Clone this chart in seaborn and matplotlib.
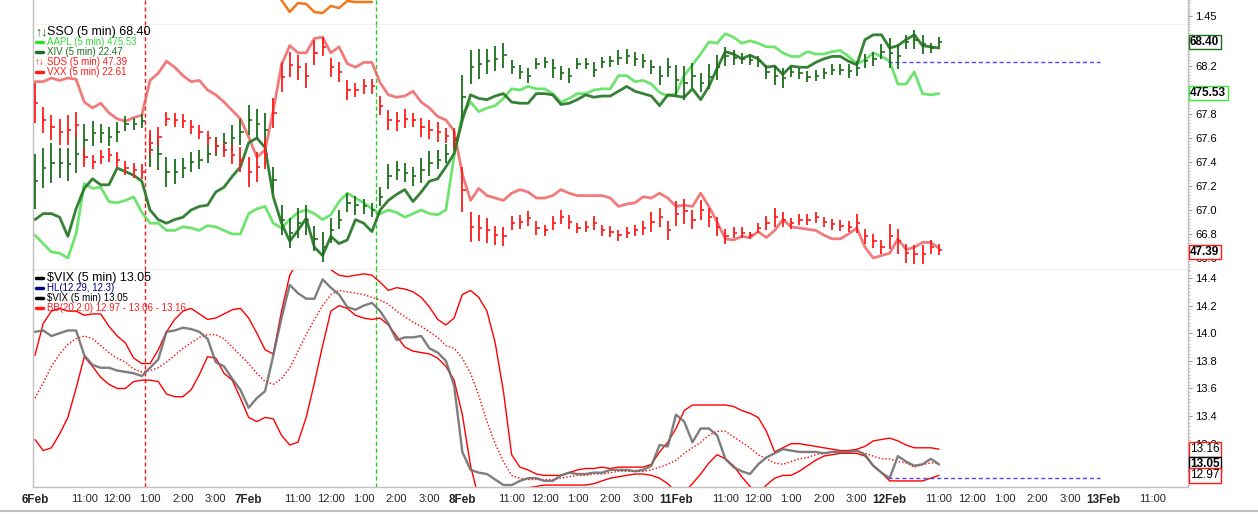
import numpy as np
import pandas as pd
import matplotlib
matplotlib.use('Agg')
import matplotlib.pyplot as plt
from matplotlib.lines import Line2D
from matplotlib.ticker import MultipleLocator, FixedLocator, FormatStrFormatter
import seaborn as sns

# one value per 15 min step, 26 steps per session, 6Feb 9:30 .. 12Feb ~11:00
sso_close = [67.24, 67.35, 67.39, 67.39, 67.38, 67.47, 67.58, 67.64, 67.64, 67.61,
             67.65, 67.72, 67.72, 67.74, 67.50, 67.47, 67.32, 67.32, 67.35, 67.40,
             67.42, 67.47, 67.53, 67.56, 67.60, 67.65, 67.75, 67.72, 67.67, 67.25,
             66.92, 66.81, 66.89, 66.92, 66.76, 66.69, 66.83, 66.92, 67.06, 67.04,
             67.03, 67.00, 67.11, 67.28, 67.33, 67.31, 67.28, 67.33, 67.39, 67.42,
             67.47, 67.58, 67.94, 68.19, 68.22, 68.24, 68.26, 68.29, 68.19, 68.15,
             68.12, 68.22, 68.23, 68.18, 68.14, 68.12, 68.22, 68.22, 68.17, 68.23,
             68.24, 68.27, 68.28, 68.26, 68.24, 68.19, 68.12, 68.19, 68.08, 68.06,
             68.12, 68.06, 68.11, 68.19, 68.28, 68.27, 68.26, 68.25, 68.24, 68.15,
             68.12, 68.10, 68.15, 68.14, 68.11, 68.12, 68.14, 68.17, 68.17, 68.16,
             68.18, 68.24, 68.26, 68.32, 68.31, 68.28, 68.40, 68.42, 68.38, 68.35, 68.40]
sso_range = [.46, .33, .33, .25, .28, .33, .28, .21, .16, .16,
             .16, .12, .10, .12, .28, .28, .25, .21, .16, .16,
             .16, .16, .16, .16, .21, .21, .25, .25, .28, .21,
             .25, .25, .25, .25, .21, .25, .21, .16, .16, .16,
             .12, .12, .16, .21, .16, .16, .16, .21, .21, .16,
             .16, .16, .37, .28, .25, .21, .21, .21, .12, .12,
             .12, .09, .09, .16, .12, .12, .09, .09, .12, .09,
             .09, .12, .12, .12, .12, .12, .16, .16, .25, .28,
             .21, .16, .21, .21, .16, .12, .09, .09, .09, .12,
             .16, .16, .09, .09, .09, .09, .09, .09, .09, .12,
             .12, .12, .12, .12, .25, .21, .12, .16, .16, .09, .09]
sds_close = [67.89, 67.75, 67.69, 67.65, 67.67, 67.71, 67.44, 67.40, 67.44, 67.46,
             67.42, 67.35, 67.33, 67.32, 67.56, 67.61, 67.76, 67.75, 67.74, 67.69,
             67.65, 67.60, 67.53, 67.50, 67.46, 67.42, 67.32, 67.36, 67.47, 67.81,
             68.11, 68.21, 68.19, 68.12, 68.31, 68.36, 68.19, 68.15, 68.00, 68.00,
             68.03, 68.03, 67.87, 67.75, 67.74, 67.76, 67.75, 67.69, 67.67, 67.65,
             67.62, 67.60, 67.17, 66.86, 66.85, 66.83, 66.79, 66.78, 66.89, 66.90,
             66.93, 66.85, 66.83, 66.89, 66.94, 66.90, 66.85, 66.86, 66.89, 66.83,
             66.82, 66.79, 66.81, 66.83, 66.85, 66.90, 66.94, 66.83, 66.97, 66.99,
             66.92, 67.00, 66.94, 66.86, 66.78, 66.81, 66.81, 66.79, 66.85, 66.89,
             66.94, 66.92, 66.89, 66.92, 66.92, 66.94, 66.90, 66.88, 66.87, 66.86,
             66.89, 66.78, 66.74, 66.69, 66.78, 66.74, 66.64, 66.63, 66.63, 66.69, 66.67]
sds_range = [.33, .21, .21, .21, .25, .21, .16, .12, .12, .12,
             .12, .12, .12, .12, .21, .16, .12, .12, .12, .12,
             .12, .12, .12, .12, .16, .21, .25, .25, .25, .25,
             .25, .21, .21, .21, .21, .16, .16, .16, .16, .12,
             .12, .12, .16, .16, .16, .16, .12, .16, .16, .16,
             .12, .16, .37, .25, .21, .21, .16, .16, .12, .12,
             .12, .12, .09, .12, .12, .12, .09, .09, .12, .09,
             .09, .09, .09, .09, .12, .16, .16, .16, .21, .21,
             .16, .16, .16, .16, .12, .09, .09, .06, .09, .12,
             .16, .12, .09, .09, .09, .09, .09, .09, .09, .09,
             .16, .12, .12, .12, .21, .21, .16, .16, .16, .12, .09]
aapl = [66.79, 66.72, 66.65, 66.64, 66.60, 66.80, 67.22, 67.18, 67.19, 67.07,
        67.06, 67.08, 67.11, 66.98, 66.89, 66.89, 66.83, 66.83, 66.86, 66.85,
        66.83, 66.87, 66.86, 66.83, 66.80, 66.80, 66.97, 67.01, 67.03, 66.89,
        66.85, 66.92, 66.98, 67.00, 66.97, 66.92, 66.96, 67.07, 67.14, 67.10,
        67.06, 67.01, 66.97, 67.00, 66.98, 66.94, 66.97, 67.00, 66.97, 66.96,
        67.00, 67.45, 67.80, 67.90, 67.82, 67.85, 67.87, 67.93, 68.01, 68.00,
        68.03, 68.01, 68.01, 67.97, 67.90, 67.93, 67.97, 67.97, 68.00, 68.01,
        68.01, 68.12, 68.12, 68.07, 68.08, 68.05, 67.98, 67.95, 67.97, 68.12,
        68.21, 68.30, 68.40, 68.39, 68.47, 68.44, 68.39, 68.41, 68.39, 68.36,
        68.36, 68.31, 68.28, 68.28, 68.32, 68.30, 68.30, 68.32, 68.33, 68.28,
        68.22, 68.25, 68.31, 68.28, 68.24, 68.05, 68.05, 68.15, 67.97, 67.96, 67.97]
xiv = [66.92, 66.97, 66.97, 66.94, 66.78, 67.01, 67.18, 67.26, 67.21, 67.21,
       67.35, 67.32, 67.29, 67.24, 67.00, 66.92, 66.89, 66.92, 66.94, 67.00,
       67.03, 67.04, 67.15, 67.19, 67.28, 67.36, 67.56, 67.60, 67.52, 67.11,
       66.89, 66.74, 66.83, 66.93, 66.69, 66.62, 66.78, 66.72, 66.75, 66.92,
       66.89, 66.82, 67.00, 67.08, 67.13, 67.17, 67.07, 67.15, 67.24, 67.26,
       67.36, 67.47, 67.75, 67.96, 67.93, 67.92, 67.95, 67.97, 67.90, 67.89,
       67.89, 67.97, 67.97, 67.96, 67.88, 67.89, 67.92, 67.96, 67.94, 67.95,
       67.95, 67.99, 68.03, 67.99, 67.97, 67.95, 67.87, 67.96, 67.95, 67.94,
       68.01, 67.92, 68.03, 68.18, 68.32, 68.30, 68.26, 68.29, 68.26, 68.19,
       68.20, 68.13, 68.20, 68.19, 68.19, 68.23, 68.26, 68.28, 68.28, 68.24,
       68.21, 68.42, 68.46, 68.46, 68.35, 68.37, 68.42, 68.46, 68.37, 68.36, 68.35]
vxx = [68.07, 68.07, 68.10, 68.08, 68.10, 68.09, 67.90, 67.85, 67.89, 67.81,
       67.76, 67.74, 67.77, 67.79, 68.08, 68.14, 68.24, 68.19, 68.12, 68.07,
       68.08, 68.00, 67.96, 67.90, 67.83, 67.76, 67.61, 67.44, 67.50, 67.83,
       68.21, 68.37, 68.31, 68.31, 68.43, 68.44, 68.31, 68.36, 68.22, 68.19,
       68.23, 68.23, 68.06, 67.96, 67.94, 67.95, 67.99, 67.90, 67.85, 67.78,
       67.75, 67.66, 67.30, 67.08, 67.18, 67.12, 67.10, 67.08, 67.14, 67.17,
       67.15, 67.10, 67.10, 67.12, 67.17, 67.14, 67.12, 67.12, 67.12, 67.12,
       67.10, 67.03, 67.05, 67.06, 67.11, 67.10, 67.14, 67.10, 67.03, 67.04,
       67.03, 67.14, 67.03, 66.90, 66.76, 66.75, 66.78, 66.77, 66.82, 66.77,
       66.83, 66.92, 66.86, 66.85, 66.84, 66.83, 66.79, 66.76, 66.76, 66.80,
       66.85, 66.69, 66.60, 66.62, 66.64, 66.76, 66.67, 66.69, 66.73, 66.73, 66.68]
vix = [14.01, 14.02, 13.98, 14.00, 14.02, 14.02, 13.84, 13.77, 13.75, 13.75,
       13.73, 13.72, 13.71, 13.69, 13.75, 13.81, 14.01, 14.02, 14.04, 14.03,
       14.01, 13.96, 13.79, 13.76, 13.67, 13.59, 13.46, 13.53, 13.58, 13.84,
       14.11, 14.35, 14.29, 14.25, 14.25, 14.39, 14.33, 14.28, 14.19, 14.17,
       14.20, 14.22, 14.16, 14.07, 13.95, 13.97, 13.97, 13.98, 13.89, 13.86,
       13.80, 13.62, 13.14, 13.01, 12.99, 12.98, 12.94, 12.90, 12.90, 12.93,
       12.95, 12.95, 12.93, 12.93, 12.97, 12.99, 12.98, 12.98, 12.99, 12.99,
       13.01, 13.01, 13.01, 13.00, 13.01, 13.04, 13.19, 13.18, 13.41, 13.36,
       13.21, 13.31, 13.31, 13.26, 13.09, 13.03, 13.00, 12.98, 13.05, 13.10,
       13.13, 13.16, 13.15, 13.14, 13.14, 13.14, 13.13, 13.14, 13.14, 13.14,
       13.15, 13.12, 13.04, 12.99, 12.95, 13.11, 13.07, 13.04, 13.05, 13.09, 13.05]
bb_up = [13.84, 14.07, 14.16, 14.18, 14.16, 14.16, 14.13, 14.14, 14.14, 14.05,
         13.98, 13.93, 13.82, 13.78, 13.78, 13.88, 14.01, 14.10, 14.16, 14.18,
         14.14, 14.10, 14.11, 14.14, 14.17, 14.18, 14.11, 14.00, 13.88, 13.85,
         14.16, 14.42, 14.52, 14.57, 14.57, 14.53, 14.46, 14.42, 14.41, 14.42,
         14.43, 14.42, 14.37, 14.31, 14.33, 14.32, 14.30, 14.26, 14.19, 14.10,
         14.06, 14.11, 14.28, 14.31, 14.26, 14.16, 13.93, 13.58, 13.12, 13.03,
         13.01, 12.98, 12.97, 12.97, 12.97, 12.99, 13.01, 13.02, 13.02, 13.03,
         13.02, 13.03, 13.03, 13.03, 13.03, 13.05, 13.14, 13.21, 13.31, 13.44,
         13.48, 13.48, 13.48, 13.48, 13.48, 13.47, 13.44, 13.42, 13.39, 13.29,
         13.14, 13.17, 13.20, 13.20, 13.19, 13.18, 13.17, 13.16, 13.15, 13.15,
         13.16, 13.18, 13.22, 13.23, 13.24, 13.22, 13.19, 13.17, 13.17, 13.17, 13.16]
bb_mid = [13.53, 13.64, 13.76, 13.85, 13.92, 13.96, 13.98, 13.96, 13.91, 13.86,
          13.82, 13.79, 13.74, 13.72, 13.73, 13.75, 13.79, 13.84, 13.89, 13.93,
          13.97, 13.99, 13.99, 13.96, 13.90, 13.84, 13.78, 13.71, 13.65, 13.63,
          13.67, 13.75, 13.87, 13.99, 14.10, 14.20, 14.28, 14.31, 14.30, 14.29,
          14.28, 14.26, 14.24, 14.21, 14.16, 14.12, 14.08, 14.05, 14.01, 13.97,
          13.91, 13.89, 13.82, 13.71, 13.55, 13.36, 13.20, 13.07, 12.97, 12.95,
          12.94, 12.94, 12.94, 12.94, 12.95, 12.96, 12.97, 12.97, 12.98, 12.98,
          12.99, 13.00, 13.00, 13.00, 13.00, 13.01, 13.03, 13.05, 13.08, 13.13,
          13.17, 13.21, 13.26, 13.29, 13.29, 13.25, 13.21, 13.17, 13.12, 13.09,
          13.06, 13.05, 13.07, 13.09, 13.10, 13.12, 13.13, 13.14, 13.15, 13.15,
          13.15, 13.13, 13.11, 13.09, 13.09, 13.07, 13.06, 13.03, 13.05, 13.06, 13.06]
bb_lo = [13.23, 13.15, 13.17, 13.27, 13.39, 13.60, 13.83, 13.76, 13.68, 13.63,
         13.60, 13.60, 13.65, 13.66, 13.66, 13.65, 13.56, 13.54, 13.54, 13.59,
         13.70, 13.83, 13.82, 13.71, 13.66, 13.53, 13.39, 13.36, 13.39, 13.38,
         13.26, 13.19, 13.21, 13.39, 13.64, 13.91, 14.16, 14.20, 14.18, 14.13,
         14.11, 14.10, 14.11, 14.06, 13.98, 13.90, 13.87, 13.86, 13.85, 13.82,
         13.76, 13.66, 13.41, 13.04, 12.80, 12.75, 12.75, 12.83, 12.86, 12.88,
         12.88, 12.89, 12.90, 12.90, 12.90, 12.90, 12.90, 12.90, 12.91, 12.93,
         12.95, 12.96, 12.97, 12.98, 12.98, 12.97, 12.95, 12.91, 12.85, 12.85,
         12.91, 12.98, 13.06, 13.12, 13.09, 13.04, 12.96, 12.89, 12.84, 12.90,
         12.95, 12.97, 12.97, 13.00, 13.04, 13.08, 13.11, 13.12, 13.13, 13.13,
         13.13, 13.11, 13.04, 12.99, 12.93, 12.93, 12.93, 12.93, 12.93, 12.95, 12.97]
# small orange series in the top strip, starts at step 28
orange_start = 28
orange = [1.58, 1.56, 1.53, 1.47, 1.515, 1.51, 1.47, 1.465, 1.50, 1.49, 1.525, 1.52, 1.52, 1.52]

day_labels = ['6Feb', '7Feb', '8Feb', '11Feb', '12Feb', '13Feb']
hour_labels = ['11:00', '12:00', '1:00', '2:00', '3:00']
steps_per_day = 26
hour_offsets = [6, 10, 14, 18, 22]
red_mark, green_mark = 13.4, 41.5
hl_top, hl_vix = 68.23, 12.95
hl_from, hl_to = 103.8, 129.6

steps = np.arange(len(sso_close))
top = pd.DataFrame({'step': steps, 'aapl': aapl, 'xiv': xiv, 'vxx': vxx})
bot = pd.DataFrame({'step': steps, 'vix': vix, 'up': bb_up, 'mid': bb_mid, 'lo': bb_lo})
strip = pd.DataFrame({'step': np.arange(len(orange)) + orange_start, 'v': orange})

sns.set_style('white')
plt.rcParams['font.family'] = ['Liberation Sans', 'DejaVu Sans']

W, H = 1258, 514
fig = plt.figure(figsize=(W / 100, H / 100), dpi=100)
L, AW = 33 / W, 1155 / W
ax0 = fig.add_axes([L, 1 - 25 / H, AW, 25 / H])
ax1 = fig.add_axes([L, 1 - 270 / H, AW, 245 / H])
ax2 = fig.add_axes([L, 1 - 487 / H, AW, 217 / H])
xlim = (-0.24, 140.3)
grey = '#c0c0c0'


def style(ax, ylim, major, minor, fmt):
    ax.set_xlim(*xlim)
    ax.set_ylim(*ylim)
    ax.yaxis.tick_right()
    ax.yaxis.set_major_locator(FixedLocator(major))
    ax.yaxis.set_minor_locator(MultipleLocator(minor))
    ax.yaxis.set_major_formatter(FormatStrFormatter(fmt))
    ax.tick_params(axis='y', which='major', length=3, width=0.8, color='#999999',
                   labelsize=8, pad=2, labelcolor='black')
    ax.tick_params(axis='y', which='minor', length=1.5, width=0.6, color='#aaaaaa')
    for s in ax.spines.values():
        s.set_color(grey)
        s.set_linewidth(1)
    ax.spines['top'].set_visible(False)
    ax.set_xlabel('')
    ax.set_ylabel('')


# top strip
sns.lineplot(data=strip, x='step', y='v', ax=ax0, color='#f07818', lw=1.8, estimator=None)
style(ax0, (1.405, 1.53), [1.45], 0.01, '%.2f')
ax0.set_xticks([])

# price panel
sns.lineplot(data=top, x='step', y='aapl', ax=ax1, color='#55e055', lw=2, alpha=0.85, estimator=None)
sns.lineplot(data=top, x='step', y='vxx', ax=ax1, color='#ee5a5a', lw=2, alpha=0.8, estimator=None)
sns.lineplot(data=top, x='step', y='xiv', ax=ax1, color='#2a7a2a', lw=2, alpha=0.95, estimator=None)
for close, rng, col in [(sso_close, sso_range, '#1d6e1d'), (sds_close, sds_range, '#ff1a1a')]:
    c = np.array(close)
    r = np.array(rng)
    ax1.vlines(steps, c - r / 2, c + r / 2, color=col, lw=1.3, zorder=4)
    ax1.hlines(c, steps, steps + 0.4, color=col, lw=1.2, zorder=4)
ax1.hlines(hl_top, hl_from, hl_to, color='#4a4af0', lw=1, ls=(0, (3, 2)))
style(ax1, (66.5, 68.542), [66.6, 66.8, 67.0, 67.2, 67.4, 67.6, 67.8, 68.2], 0.025, '%.1f')
ax1.set_xticks([])

# VIX panel
sns.lineplot(data=bot, x='step', y='up', ax=ax2, color='#ff0000', lw=1, estimator=None)
sns.lineplot(data=bot, x='step', y='lo', ax=ax2, color='#ff0000', lw=1, estimator=None)
sns.lineplot(data=bot, x='step', y='mid', ax=ax2, color='#ff0000', lw=1, ls=(0, (1, 1.5)), estimator=None)
sns.lineplot(data=bot, x='step', y='vix', ax=ax2, color='#707070', lw=1.7, alpha=0.9, estimator=None)
ax2.hlines(hl_vix, hl_from, hl_to, color='#4a4af0', lw=1, ls=(0, (3, 2)))
style(ax2, (12.886, 14.458), [13.2, 13.4, 13.6, 13.8, 14.0, 14.2, 14.4], 0.025, '%.1f')

ticks, labels, bold = [], [], []
for i, d in enumerate(day_labels):
    start = i * steps_per_day
    ticks.append(start)
    labels.append(d)
    bold.append(True)
    hrs = hour_labels if i < len(day_labels) - 1 else hour_labels[:1]
    for off, h in zip(hour_offsets, hrs):
        ticks.append(start + off)
        labels.append(h)
        bold.append(False)
ax2.set_xticks(ticks)
ax2.set_xticklabels(labels)
ax2.tick_params(axis='x', length=3, width=0.8, color='#999999', labelsize=8, pad=2)
for lab, b in zip(ax2.get_xticklabels(), bold):
    if b:
        lab.set_fontweight('bold')
        lab.set_fontsize(8.5)

for ax in (ax0, ax1, ax2):
    ax.axvline(red_mark, color='#ff1a1a', lw=1, ls=(0, (3, 2)), zorder=1)
    ax.axvline(green_mark, color='#22cc22', lw=1, ls=(0, (3, 2)), zorder=1)


def fx(px):
    return px / W


def fy(py):
    return 1 - py / H


def legend_row(py, text, color, icon_color, size, arrows=False):
    if arrows:
        fig.text(fx(35), fy(py), '\u2191\u2193', color=icon_color, fontsize=size,
                 va='center', ha='left', fontweight='bold')
    else:
        fig.add_artist(Line2D([fx(36), fx(43)], [fy(py), fy(py)], color=icon_color,
                              lw=2.5, transform=fig.transFigure))
    fig.text(fx(47), fy(py), text, color=color, fontsize=size, va='center', ha='left')


legend_row(32, 'SSO (5 min) 68.40', 'black', '#1d6e1d', 9, arrows=True)
legend_row(42, 'AAPL (5 min) 475.53', '#33dd33', '#33dd33', 7)
legend_row(52, 'XIV (5 min) 22.47', '#1d6e1d', '#1d6e1d', 7)
legend_row(62, 'SDS (5 min) 47.39', '#ff1a1a', '#ff1a1a', 7, arrows=True)
legend_row(72, 'VXX (5 min) 22.61', '#ff1a1a', '#ff1a1a', 7)
legend_row(278, '$VIX (5 min) 13.05', 'black', 'black', 9)
legend_row(288, 'HL(12.29, 12.3)', '#000080', '#000080', 7)
legend_row(298, '$VIX (5 min) 13.05', 'black', 'black', 7)
legend_row(308, 'BB(20,2.0) 12.97 - 13.06 - 13.16', '#ff1a1a', '#ff1a1a', 7)


def tag(ax, y, text, ec, bold):
    ax.annotate(text, xy=(1, y), xycoords=ax.get_yaxis_transform(), xytext=(1.5, 0),
                textcoords='offset points', va='center', ha='left', fontsize=8.5,
                fontweight='bold' if bold else 'normal', color='black', zorder=10,
                annotation_clip=False,
                bbox=dict(boxstyle='square,pad=0.12', fc='white', ec=ec, lw=1))


tag(ax1, 68.40, '68.40', '#1d6e1d', True)
tag(ax1, 67.975, '475.53', '#33ee33', True)
tag(ax1, 66.65, '47.39', '#ff1a1a', True)
tag(ax2, 13.16, '13.16', '#ff1a1a', False)
tag(ax2, 13.05, '13.05', 'black', True)
tag(ax2, 12.97, '12.97', '#ff1a1a', False)

fig.add_artist(Line2D([0, 1], [fy(511), fy(511)], color=grey, lw=1.5, transform=fig.transFigure))

fig.savefig('out.png', dpi=100, facecolor='white')
